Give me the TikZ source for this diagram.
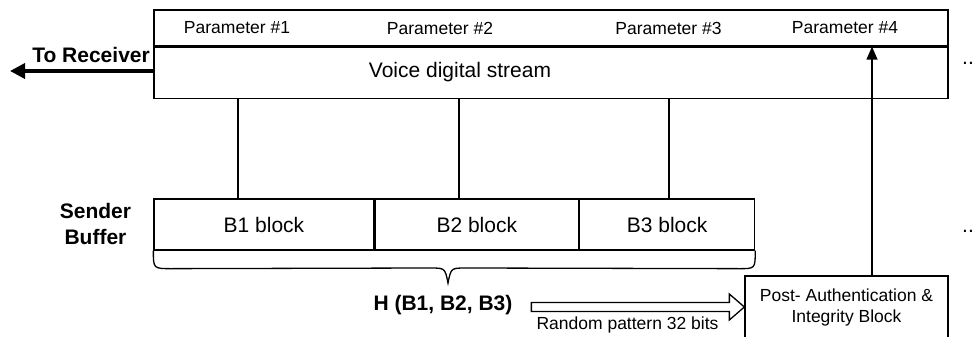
\documentclass[tikz,border=0pt]{standalone}
\usepackage{fontspec}
\setmainfont{Liberation Sans}
\usetikzlibrary{positioning,calc,arrows.meta}
\newcommand{\labelsize}{\fontsize{17.5}{21}\selectfont}
\newcommand{\textsize}{\fontsize{21}{26}\selectfont}
\tikzset{
  cell/.style={draw, line width=1.3pt, inner sep=0pt},
  lbl/.style={font=\labelsize, inner sep=0pt},
  txt/.style={font=\textsize, inner sep=0pt},
  bold/.style={font=\textsize\bfseries, inner sep=0pt, align=center},
}
\begin{document}
\begin{tikzpicture}[x=1pt,y=-1pt]
  \clip (0,0) rectangle (977,337);
  % voice stream frame
  \node[cell, minimum width=794pt, minimum height=36pt] (params) at (551,28) {};
  \node[cell, minimum width=794pt, minimum height=51pt, below=0pt of params] (voice) {};
  \node[lbl] (p1) at (237,28) {Parameter \#1};
  \node[lbl] (p2) at (440,28) {Parameter \#2};
  \node[lbl] (p3) at (668.5,28) {Parameter \#3};
  \node[lbl] (p4) at (845,28) {Parameter \#4};
  \node[txt] (vtext) at (460,72) {Voice digital stream};
  \node[txt, anchor=base west] (more1) at (962,64) {..};
  % to receiver
  \node[bold, anchor=east] (recv) at (150,55) {To Receiver};
  \coordinate (rx) at (10,71);
  \draw[line width=3.5pt, -{Triangle[length=15pt,width=15pt]}] (voice.west |- rx) -- (rx);
  % sender buffer
  \node[bold] (sender) at (95.5,224) {Sender\\Buffer};
  \node[cell, txt, minimum width=220pt, minimum height=51pt] (b1) at (264,224.5) {B1 block};
  \node[cell, txt, minimum width=203pt, minimum height=51pt, right=0pt of b1] (b2) {B2 block};
  \node[cell, txt, minimum width=175pt, minimum height=51pt, right=0pt of b2] (b3) {B3 block};
  \node[txt, anchor=base west] (more2) at (962,232) {..};
  \coordinate (l1) at (238,0);
  \coordinate (l2) at (459,0);
  \coordinate (l3) at (669,0);
  \coordinate (l4) at (872,0);
  \foreach \l/\b in {l1/b1,l2/b2,l3/b3}
    \draw[line width=1.3pt] (voice.south -| \l) -- (\b.north -| \l);
  % brace under the buffer
  \coordinate (tip) at (448,283);
  \draw[line width=1.3pt] (b1.south west) .. controls ($(b1.south west)+(0,18)$) .. ($(b1.south west)+(18,18)$)
    -- ($(tip)+(-18,-15)$) .. controls ($(tip)+(-3,-15)$) .. (tip)
    .. controls ($(tip)+(3,-15)$) .. ($(tip)+(18,-15)$)
    -- ($(b3.south east)+(-16,18)$) .. controls ($(b3.south east)+(0,18)$) .. (b3.south east);
  \node[bold] (hash) at (443,305) {H (B1, B2, B3)};
  % post block
  \node[cell, minimum width=203pt, minimum height=62pt, align=center, font=\labelsize] (post) at (846.5,307)
    {Post- Authentication \&\\Integrity Block};
  \draw[line width=1.3pt, -{Triangle[length=13pt,width=11pt]}] (post.north -| l4) -- (params.south -| l4);
  \draw[line width=1.3pt] ($(post.west)+(-213,-4.5)$) -- ++(198,0) -- ++(0,-8.5) -- (post.west)
    -- ++(-15,13) -- ++(0,-8.5) -- ++(-198,0) -- cycle;
  \node[lbl] (rand) at (627.5,325) {Random pattern 32 bits};
\end{tikzpicture}
\end{document}
